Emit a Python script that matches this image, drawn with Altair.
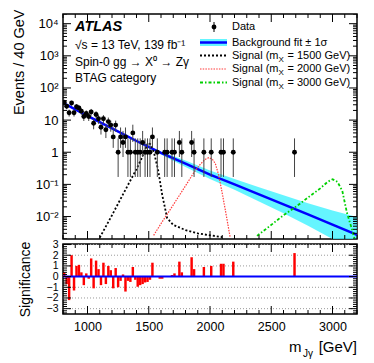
import altair as alt
import pandas as pd

FONT = "Liberation Sans"

# ---------------- values ----------------
data_mass = [810, 830, 850, 870, 890, 910, 930, 950, 970, 990,
             1010, 1030, 1050, 1070, 1090, 1110, 1130, 1150, 1170, 1190,
             1210, 1230, 1250, 1270, 1290, 1310, 1330, 1350, 1370, 1390,
             1410, 1430, 1450, 1470, 1490, 1510, 1530, 1570, 1630, 1650,
             1690, 1710, 1750, 1770, 1850, 1870, 1950, 2010, 2090, 2110,
             2190, 2690]
data_val = [36, 27, 17, 34, 17, 26, 24, 19, 13, 16,
            13, 18, 8, 15, 11, 6, 11, 5, 9, 7,
            3, 7, 1, 3, 2, 3, 1, 1, 4, 1,
            1, 1, 2, 1, 1, 1, 3, 1, 1, 1,
            1, 1, 2, 1, 2, 1, 1, 1, 1, 1,
            1, 1]

# small-count Poisson intervals as drawn
pois_lo = {1: 0.17, 2: 0.71, 3: 1.37, 4: 2.09}
pois_hi = {1: 2.7, 2: 4.6, 3: 5.9, 4: 7.2}

sig_mass = [810, 830, 850, 870, 890, 910, 930, 950, 970, 990,
            1010, 1030, 1050, 1070, 1090, 1110, 1130, 1150, 1170, 1190,
            1210, 1230, 1250, 1270, 1290, 1310, 1330, 1350, 1370, 1390,
            1410, 1430, 1450, 1470, 1490, 1510, 1530,
            1590, 1610, 1690, 1710, 1750, 1770, 1850, 1870, 1950, 2010,
            2090, 2110, 2190, 2690]
sig_val = [0.4, -0.7, -2.2, 2.0, -1.3, 1.0, 1.1, 0.4, -0.8, 0.3,
           -0.2, 1.7, -1.1, 1.5, 0.7, -0.8, 1.3, -0.7, 1.0, 0.6,
           -1.1, 0.8, -1.0, -0.4, 0.2, -1.4, -0.4, -0.5, 0.9, -0.3,
           -0.95, -0.8, -0.7, -0.55, -0.5, -0.3, 1.3,
           -0.2, -0.2, 0.15, 0.3, 1.4, 0.4, 1.8, 0.7, 0.9, 1.0,
           1.2, 1.2, 1.4, 2.2]

bkg_mass = [800, 1000, 1200, 1400, 1600, 1800, 2000, 2200, 2400, 2600, 2800, 3000, 3200]
bkg_val = [34.7, 13.5, 5.5, 2.24, 0.95, 0.44, 0.20, 0.10, 0.049, 0.024, 0.0117, 0.0056, 0.0027]
bkg_lo = [32.4, 12.6, 5.1, 2.09, 0.85, 0.35, 0.148, 0.068, 0.0295, 0.0126, 0.0052, 0.0020, 0.00076]
bkg_hi = [37.2, 14.5, 5.9, 2.40, 1.06, 0.55, 0.27, 0.148, 0.081, 0.0457, 0.026, 0.0155, 0.0096]

s1500_mass = [1100, 1200, 1300, 1400, 1440, 1470, 1495, 1520, 1545, 1575, 1610, 1650, 1700, 1800, 1900, 2000, 2100]
s1500_val = [0.0022, 0.011, 0.058, 0.30, 0.62, 1.2, 2.0, 1.7, 0.9, 0.3, 0.047, 0.009, 0.0055, 0.0038, 0.003, 0.0026, 0.0023]

s2000_mass = [1540, 1600, 1700, 1800, 1867, 1920, 1960, 1990, 2020, 2044, 2070, 2098, 2125, 2152, 2165]
s2000_val = [0.0026, 0.006, 0.023, 0.09, 0.23, 0.42, 0.60, 0.68, 0.6, 0.44, 0.2, 0.058, 0.016, 0.0042, 0.0022]

s3000_mass = [2384, 2500, 2600, 2700, 2800, 2900, 2960, 3000, 3040, 3080, 3118, 3160, 3180]
s3000_val = [0.0025, 0.0055, 0.011, 0.02, 0.039, 0.075, 0.12, 0.145, 0.12, 0.063, 0.013, 0.0039, 0.002]

x_major = [1000, 1500, 2000, 2500, 3000]
x_minor = [m for m in range(800, 3201, 100) if m not in x_major]
y_major = [0.01, 0.1, 1, 10, 100, 1000, 10000]
y_minor = [k * 10.0 ** e for e in range(-3, 5) for k in range(2, 10) if 0.002 <= k * 10.0 ** e <= 20000]
s_major = [-3, -2, -1, 0, 1, 2, 3]
s_minor = [round(-3.4 + 0.2 * i, 2) for i in range(33) if abs(round(-3.4 + 0.2 * i, 2) - round(-3.4 + 0.2 * i)) > 1e-6]
s_grid = [-3, -2, -1, 1, 2, 3]

# ---------------- tables ----------------
df_data = pd.DataFrame({"m": data_mass, "v": data_val})
df_data["lo"] = [pois_lo[n] if n in pois_lo else n - n ** 0.5 for n in data_val]
df_data["hi"] = [pois_hi[n] if n in pois_hi else n + n ** 0.5 for n in data_val]
df_sig = pd.DataFrame({"m": sig_mass, "s": sig_val})
df_bkg = pd.DataFrame({"m": bkg_mass, "v": bkg_val, "lo": bkg_lo, "hi": bkg_hi})
df_s1 = pd.DataFrame({"m": s1500_mass, "v": s1500_val})
df_s2 = pd.DataFrame({"m": s2000_mass, "v": s2000_val})
df_s3 = pd.DataFrame({"m": s3000_mass, "v": s3000_val})

W, H = 294, 225
H2 = 70

xs = alt.Scale(domain=[800, 3200], nice=False, zero=False)
ys = alt.Scale(type="log", domain=[0.002, 20000], nice=False)
ys2 = alt.Scale(domain=[-3.5, 3.05], nice=False, zero=False)

ylab_expr = ("datum.value > 5000 ? '10⁴' : datum.value > 500 ? '10³' : datum.value > 50 ? '10²' : "
             "datum.value > 5 ? '10' : datum.value > 0.5 ? '1' : datum.value > 0.05 ? '10⁻¹' : '10⁻²'")
y_axis = alt.Axis(values=y_major, labelExpr=ylab_expr, ticks=False, tickSize=0, domain=False, grid=False,
                  labelFontSize=13, labelPadding=5, labelOverlap=False, labelFlush=False,
                  title="Events / 40 GeV", titleFontSize=14.5, titleFontWeight="normal",
                  titleAngle=270, titleAlign="right", titleBaseline="middle", titleX=-44, titleY=-5)
y_axis2 = alt.Axis(values=s_major, ticks=False, tickSize=0, domain=False, grid=False,
                   labelFontSize=10.5, labelPadding=5, labelOverlap=False, labelFlush=False,
                   title="Significance", titleFontSize=14, titleFontWeight="normal",
                   titleAngle=270, titleAlign="center", titleBaseline="middle", titleX=-38, titleY=H2 / 2)
x_axis2 = alt.Axis(values=x_major, format="d", ticks=False, tickSize=0, domain=False, grid=False,
                   labelFontSize=12.5, labelPadding=6, labelFlush=False, title=None)


def X(f="m"):
    return alt.X(f"{f}:Q", scale=xs, axis=None)


def Y(f):
    return alt.Y(f"{f}:Q", scale=ys, axis=y_axis)


def XL(f="m"):
    return alt.X(f"{f}:Q", scale=xs, axis=x_axis2)


def YL(f):
    return alt.Y(f"{f}:Q", scale=ys2, axis=y_axis2)


def ticks_x(values, length, h, xenc):
    d = pd.DataFrame({"t": values})
    bot = alt.Chart(d).mark_rule(color="black", strokeWidth=1).encode(
        x=xenc("t"), y=alt.value(h), y2=alt.value(h - length))
    top = alt.Chart(d).mark_rule(color="black", strokeWidth=1).encode(
        x=xenc("t"), y=alt.value(0), y2=alt.value(length))
    return [bot, top]


def ticks_y(values, length, yenc):
    d = pd.DataFrame({"t": values})
    left = alt.Chart(d).mark_rule(color="black", strokeWidth=1, clip=True).encode(
        y=yenc("t"), x=alt.value(0), x2=alt.value(length))
    right = alt.Chart(d).mark_rule(color="black", strokeWidth=1, clip=True).encode(
        y=yenc("t"), x=alt.value(W), x2=alt.value(W - length))
    return [left, right]


def txt(t, x, y, size, **kw):
    return alt.Chart(pd.DataFrame({"t": [t]})).mark_text(
        align=kw.pop("align", "left"), baseline="middle", fontSize=size, font=FONT, color="black", **kw
    ).encode(x=alt.value(x), y=alt.value(y), text="t:N")


one = pd.DataFrame({"a": [0]})

# ---------------- main panel ----------------
band = alt.Chart(df_bkg).mark_area(color="#3ff2ff", opacity=0.8, clip=True).encode(
    x=X(), y=Y("lo"), y2=alt.Y2("hi:Q"))
bline = alt.Chart(df_bkg).mark_line(color="#0000ff", strokeWidth=2.5, clip=True).encode(x=X(), y=Y("v"))
l1 = alt.Chart(df_s1).mark_line(color="black", strokeDash=[2, 2], strokeWidth=1.8, clip=True).encode(x=X(), y=Y("v"))
l2 = alt.Chart(df_s2).mark_line(color="#ff3b3b", strokeDash=[1.5, 1.2], strokeWidth=1.2, clip=True).encode(x=X(), y=Y("v"))
l3 = alt.Chart(df_s3).mark_line(color="#00d000", strokeDash=[3, 2, 1.5, 2], strokeWidth=1.8, clip=True).encode(x=X(), y=Y("v"))
err = alt.Chart(df_data).mark_rule(color="#444", strokeWidth=1, clip=True).encode(x=X(), y=Y("lo"), y2=alt.Y2("hi:Q"))
pts = alt.Chart(df_data).mark_circle(color="black", size=24, opacity=1, clip=True).encode(x=X(), y=Y("v"))

main_layers = [band, bline, l1, l2, l3, err, pts]
main_layers += ticks_x(x_major, 8, H, X) + ticks_x(x_minor, 4, H, X)
main_layers += ticks_y(y_major, 8, Y) + ticks_y(y_minor, 4, Y)

# labels
main_layers += [
    txt("ATLAS", 12, 13, 14.5, fontStyle="italic", fontWeight="bold"),
    txt("√s = 13 TeV, 139 fb⁻¹", 12, 31, 12),
    txt("Spin-0 gg → X⁰ → Zγ", 12, 48, 12),
    txt("BTAG category", 12, 64, 12),
]
# legend
LX = 169
main_layers += [
    alt.Chart(one).mark_rule(color="black", strokeWidth=1).encode(x=alt.value(151), y=alt.value(8), y2=alt.value(18)),
    alt.Chart(one).mark_circle(color="black", size=24, opacity=1).encode(x=alt.value(151), y=alt.value(13)),
    alt.Chart(one).mark_rect(color="#3ff2ff", opacity=0.8).encode(x=alt.value(137), x2=alt.value(164), y=alt.value(25), y2=alt.value(32)),
    alt.Chart(one).mark_rule(color="#0000ff", strokeWidth=2.5).encode(x=alt.value(137), x2=alt.value(164), y=alt.value(28.5)),
    alt.Chart(one).mark_rule(color="black", strokeDash=[2, 2], strokeWidth=1.8).encode(x=alt.value(137), x2=alt.value(164), y=alt.value(41.5)),
    alt.Chart(one).mark_rule(color="#ff3b3b", strokeDash=[1.5, 1.2], strokeWidth=1.2).encode(x=alt.value(137), x2=alt.value(164), y=alt.value(55)),
    alt.Chart(one).mark_rule(color="#00d000", strokeDash=[3, 2, 1.5, 2], strokeWidth=1.8).encode(x=alt.value(137), x2=alt.value(164), y=alt.value(68.5)),
    txt("Data", LX, 13, 11),
    txt("Background fit ± 1σ", LX, 28.5, 11),
]
for yy, mx in [(41.5, "1500"), (55, "2000"), (68.5, "3000")]:
    main_layers += [
        txt("Signal (m", LX, yy, 11),
        txt("X", LX + 46.5, yy + 4, 8),
        txt(f"= {mx} GeV)", LX + 55.5, yy, 11),
    ]

main = alt.layer(*main_layers).properties(width=W, height=H)

# ---------------- significance panel ----------------
grid = alt.Chart(pd.DataFrame({"t": s_grid})).mark_rule(color="#9a9a9a", strokeDash=[1, 2], strokeWidth=1).encode(
    y=YL("t"), x=alt.value(0), x2=alt.value(W))
bars = alt.Chart(df_sig).transform_calculate(
    lo="datum.m - 10", hi="datum.m + 10", z="0"
).mark_rect(color="#ff0000").encode(x=XL("lo"), x2=alt.X2("hi:Q"), y=YL("z"), y2=alt.Y2("s:Q"))
zero = alt.Chart(pd.DataFrame({"t": [0]})).mark_rule(color="#0000ff", strokeWidth=2).encode(
    y=YL("t"), x=alt.value(0), x2=alt.value(W))

low_layers = [grid, bars, zero]
low_layers += ticks_x(x_major, 8, H2, XL) + ticks_x(x_minor, 4, H2, XL)
low_layers += ticks_y(s_major, 8, YL) + ticks_y(s_minor, 4, YL)
low_layers += [
    txt("m", 226, 103, 15),
    txt("Jγ", 240, 110, 10),
    txt("[GeV]", W, 103, 15, align="right"),
]
lower = alt.layer(*low_layers).properties(width=W, height=H2)

chart = alt.vconcat(main, lower, spacing=5, bounds="flush").properties(
    padding={"left": 2, "top": 0, "right": 0, "bottom": 0}
).configure_view(stroke="black", strokeWidth=1.5).configure_axis(
    labelFont=FONT, titleFont=FONT, labelColor="black", titleColor="black"
).configure_text(font=FONT)

chart.save("out.html", embed_options={"renderer": "svg", "actions": False})
